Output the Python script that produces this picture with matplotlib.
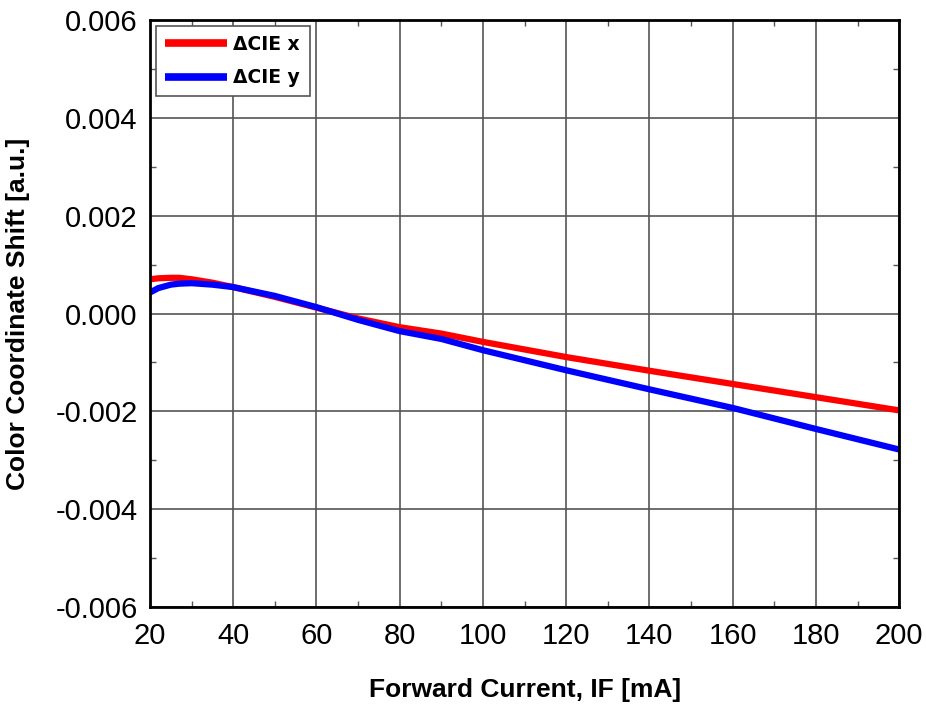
import matplotlib

matplotlib.use("Agg")
import matplotlib.pyplot as plt
from matplotlib.ticker import MultipleLocator

plt.rcParams["font.family"] = ["Liberation Sans", "DejaVu Sans"]

IF_MA = [20, 22, 25, 27, 30, 35, 40, 50, 60, 70, 80, 90, 100, 120, 140, 160, 180, 200]
CIE_X = [0.00070, 0.00072, 0.00073, 0.00073, 0.00070, 0.00063, 0.00054, 0.00034, 0.00012,
         -0.00010, -0.00028, -0.00041, -0.00058, -0.00089, -0.00117, -0.00144, -0.00171, -0.00198]
CIE_Y = [0.00043, 0.00052, 0.00059, 0.00061, 0.00062, 0.00059, 0.00054, 0.00036, 0.00013,
         -0.00013, -0.00036, -0.00052, -0.00075, -0.00116, -0.00155, -0.00193, -0.00236, -0.00278]

fig = plt.figure(figsize=(9.26, 7.07), dpi=100)
ax = fig.add_axes([0.162, 0.1414, 0.809, 0.8303])

ax.plot(IF_MA, CIE_X, color="#ff0000", lw=4.5, solid_capstyle="butt",
        solid_joinstyle="round", label="ΔCIE x", zorder=3)
ax.plot(IF_MA, CIE_Y, color="#0000ff", lw=4.5, solid_capstyle="butt",
        solid_joinstyle="round", label="ΔCIE y", zorder=3)

ax.set_xlim(20, 200)
ax.set_ylim(-0.006, 0.006)
ax.xaxis.set_major_locator(MultipleLocator(20))
ax.yaxis.set_major_locator(MultipleLocator(0.002))
ax.xaxis.set_minor_locator(MultipleLocator(10))
ax.yaxis.set_minor_locator(MultipleLocator(0.001))
ax.yaxis.set_major_formatter(plt.FuncFormatter(lambda v, _: f"{v:.3f}"))
ax.grid(True, which="major", color="#555555", lw=1.2)
ax.tick_params(which="both", direction="in", top=True, right=True, labelsize=21)
ax.tick_params(which="major", length=0)
ax.tick_params(axis="x", which="major", pad=11)
ax.tick_params(axis="y", which="major", pad=9)
ax.tick_params(which="minor", length=4, width=1, color="#555555")
for sp in ax.spines.values():
    sp.set_linewidth(2)
    sp.set_zorder(4)

ax.set_xlabel("Forward Current, IF [mA]", fontsize=19, fontweight="bold", labelpad=20)
ax.set_ylabel("Color Coordinate Shift [a.u.]", fontsize=19, fontweight="bold", labelpad=18)

leg = ax.legend(loc="upper left", bbox_to_anchor=(0.0, 1.0),
                prop={"weight": "bold", "family": "DejaVu Sans", "size": 13.5},
                fancybox=False, framealpha=1, edgecolor="#555555",
                handlelength=3.3, handletextpad=0.35, borderpad=0.5,
                labelspacing=0.75, borderaxespad=0.3)
leg.get_frame().set_linewidth(1.2)
for line in leg.get_lines():
    line.set_linewidth(5.5)

fig.savefig("out.png", dpi=100)
